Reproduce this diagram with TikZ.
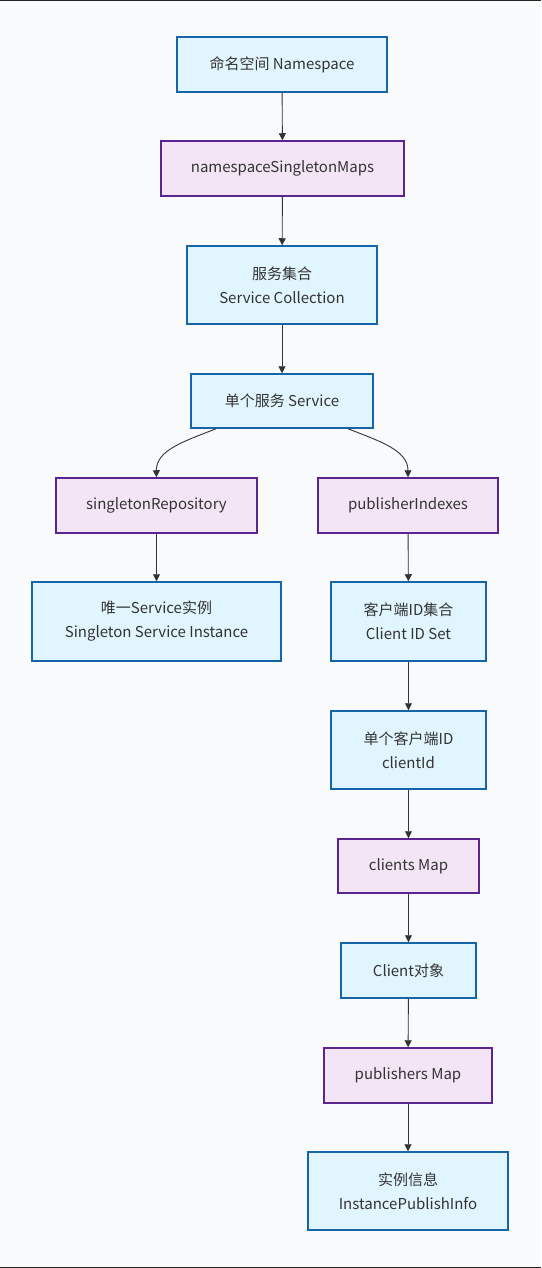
\documentclass[tikz,border=0pt]{standalone}
\usepackage{fontspec}
\setmainfont{Noto Sans CJK SC}
\usepackage{tikz}
\usetikzlibrary{positioning,arrows.meta}
\definecolor{bg}{HTML}{F8FAFC}
\definecolor{bluefill}{HTML}{E1F5FE}
\definecolor{blueline}{HTML}{1565A8}
\definecolor{purplefill}{HTML}{F3E5F5}
\definecolor{purpleline}{HTML}{5A2590}
\definecolor{txt}{HTML}{333333}
\tikzset{
  datanode/.style = {draw = blueline, fill = bluefill, line width = 1.5pt, align = center, text = txt, inner sep = 0pt, font = \fontsize{15}{24}\selectfont},
  mapnode/.style = {draw = purpleline, fill = purplefill, line width = 1.5pt, align = center, text = txt, inner sep = 0pt, font = \fontsize{15}{24}\selectfont},
  link/.style = {draw = txt, line width = 0.9pt, -{Triangle[length=7pt, width=7pt]}}
}

\begin{document}
\begin{tikzpicture}[x = 1pt, y = -1pt]
\useasboundingbox[fill = bg] (0,0) rectangle (541,1268);
\draw[line width = 1.5pt, black!85] (0,0.75) -- (541,0.75);
\draw[line width = 1.5pt, black!85] (0,1267.25) -- (541,1267.25);
% trunk
\node[datanode, minimum width = 210pt, minimum height = 55pt] (ns) at (282,64.5) {命名空间 Namespace};
\node[mapnode, minimum width = 243pt, minimum height = 55pt] (ns_maps) at (282.5,168.5) {namespaceSingletonMaps};
\node[datanode, minimum width = 190pt, minimum height = 78pt] (svc_coll) at (282,285) {服务集合\\Service Collection};
\node[datanode, minimum width = 182pt, minimum height = 54pt] (svc) at (282,401) {单个服务 Service};
% left branch
\node[mapnode, minimum width = 201pt, minimum height = 55pt] (singleton_repo) at (156.5,505.5) {singletonRepository};
\node[datanode, minimum width = 249pt, minimum height = 79pt] (singleton_inst) at (156.5,621.5) {唯一Service实例\\Singleton Service Instance};
% right branch
\node[mapnode, minimum width = 180pt, minimum height = 55pt] (pub_idx) at (408,505.5) {publisherIndexes};
\node[datanode, minimum width = 155pt, minimum height = 79pt] (client_set) at (408.5,621.5) {客户端ID集合\\Client ID Set};
\node[datanode, minimum width = 155pt, minimum height = 78pt] (client_id) at (408.5,750) {单个客户端ID\\clientId};
\node[mapnode, minimum width = 141pt, minimum height = 54pt] (clients_map) at (408.5,866) {clients Map};
\node[datanode, minimum width = 135pt, minimum height = 55pt] (client_obj) at (408.5,970.5) {Client对象};
\node[mapnode, minimum width = 168pt, minimum height = 55pt] (pub_map) at (408,1075.5) {publishers Map};
\node[datanode, minimum width = 200pt, minimum height = 78pt] (pub_info) at (408,1191) {实例信息\\InstancePublishInfo};
% connectors
\draw[link] (ns) -- (ns_maps);
\draw[link] (ns_maps) -- (svc_coll);
\draw[link] (svc_coll) -- (svc);
\draw[link] (svc.south) ++(-66,0) coordinate (svc_l) .. controls (185,441) and (156,450) .. (singleton_repo.north);
\draw[link] (svc.south) ++(66,0) coordinate (svc_r) .. controls (379,441) and (408,450) .. (pub_idx.north);
\draw[link] (singleton_repo) -- (singleton_inst);
\draw[link] (pub_idx) -- (client_set);
\draw[link] (client_set) -- (client_id);
\draw[link] (client_id) -- (clients_map);
\draw[link] (clients_map) -- (client_obj);
\draw[link] (client_obj) -- (pub_map);
\draw[link] (pub_map) -- (pub_info);
\end{tikzpicture}
\end{document}
